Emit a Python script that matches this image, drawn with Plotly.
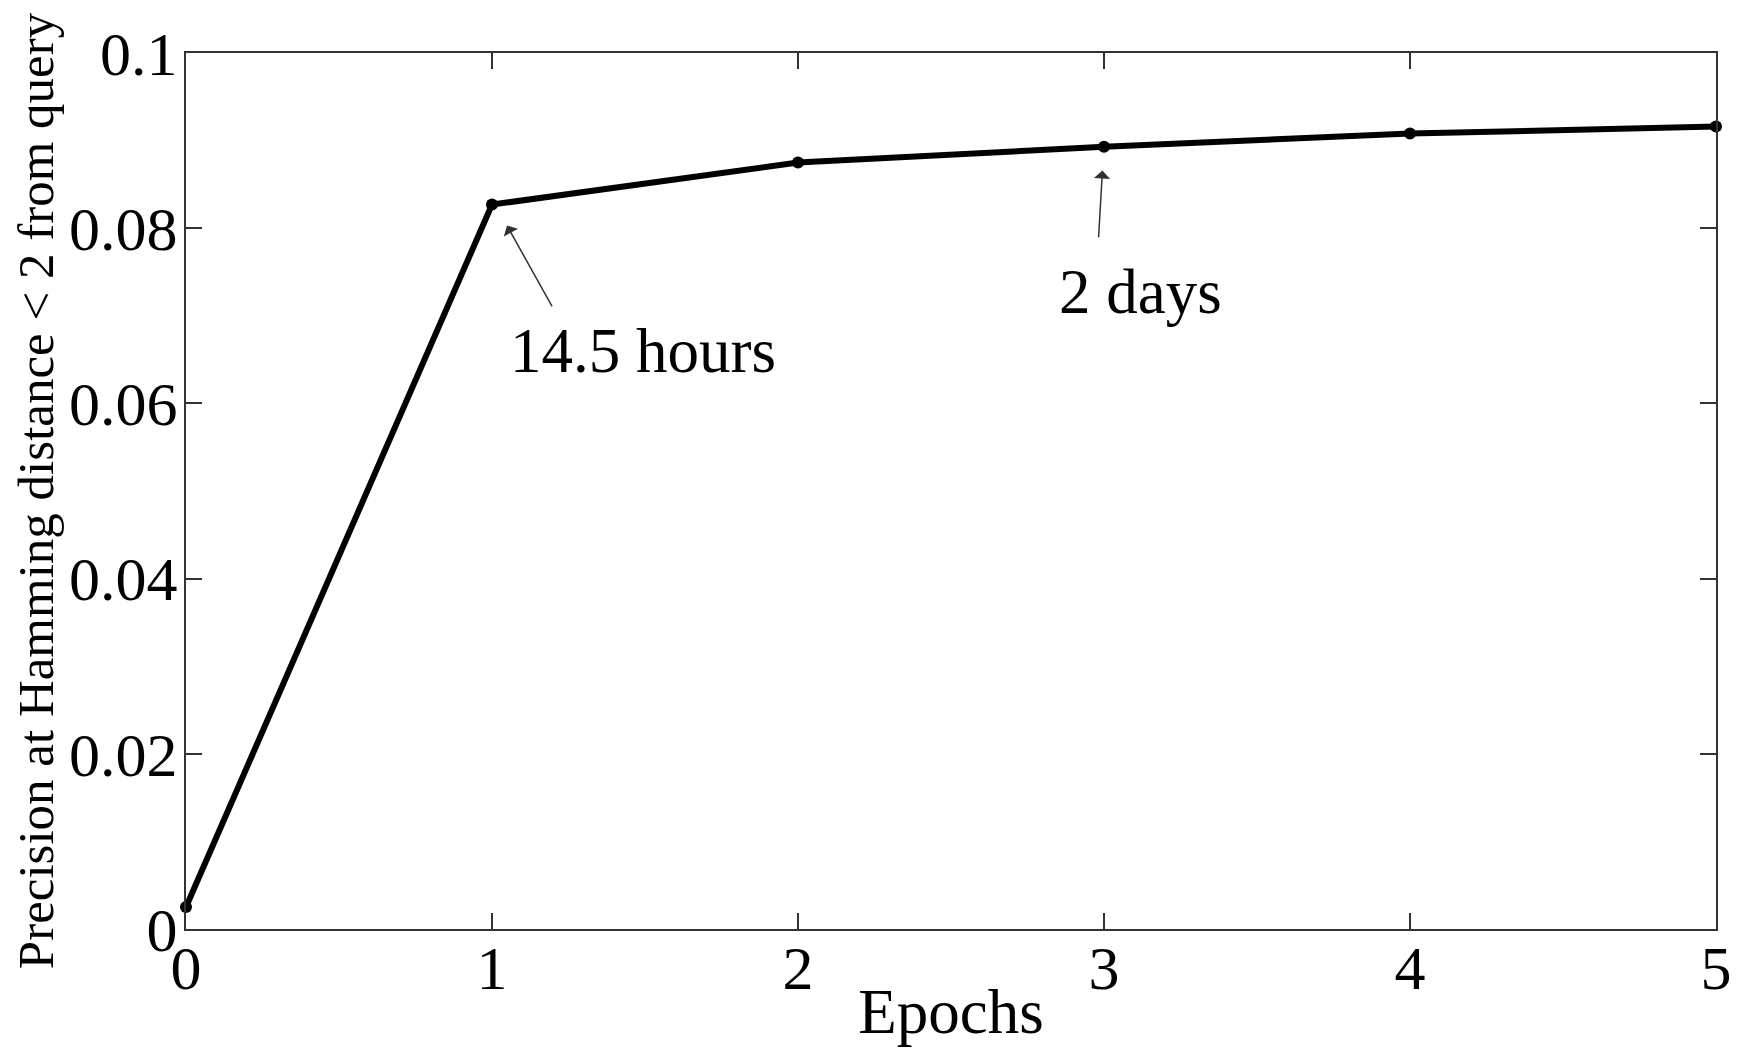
import plotly.graph_objects as go

epochs = [0, 1, 2, 3, 4, 5]
precision = [0.0025, 0.0827, 0.0875, 0.0893, 0.0908, 0.0916]
x_ticks = [0, 1, 2, 3, 4, 5]
y_ticks = [0, 0.02, 0.04, 0.06, 0.08, 0.1]
y_ticktext = ["0", "0.02", "0.04", "0.06", "0.08", "0.1"]

FONT = "Liberation Serif"

fig = go.Figure()
fig.add_trace(go.Scatter(
    x=epochs, y=precision, mode="lines+markers",
    line=dict(color="black", width=6),
    marker=dict(color="black", size=12),
    showlegend=False, cliponaxis=False,
))

axis_common = dict(
    showline=True, linecolor="#333", linewidth=2, mirror="ticks",
    ticks="inside", ticklen=16, tickwidth=1.5, tickcolor="#333",
    showgrid=False, zeroline=False, automargin=False,
    tickfont=dict(family=FONT, size=62, color="black"),
)

# page body has an 8px margin, so the figure is sized to fit inside the window
fig.update_layout(
    width=1725, height=1039,
    margin=dict(l=178, r=17, t=45, b=118),
    paper_bgcolor="white", plot_bgcolor="white",
    xaxis=dict(range=[0, 5], tickvals=x_ticks, ticktext=[str(v) for v in x_ticks],
               ticklabelstandoff=-16,
               title=dict(text="Epochs", font=dict(family=FONT, size=63, color="black"), standoff=0),
               **axis_common),
    yaxis=dict(range=[0, 0.1], tickvals=y_ticks, ticktext=y_ticktext,
               ticklabelstandoff=-6,
               title=dict(text="Precision at Hamming distance < 2 from query",
                          font=dict(family=FONT, size=51, color="black"), standoff=0),
               **axis_common),
)

# arrows
fig.add_annotation(x=1.049, y=0.0803, ax=1.199, ay=0.0709, axref="x", ayref="y",
                   xref="x", yref="y", text="", showarrow=True,
                   arrowhead=1, arrowsize=1.8, arrowwidth=1.5, arrowcolor="#333")
fig.add_annotation(x=2.995, y=0.0866, ax=2.982, ay=0.0788, axref="x", ayref="y",
                   xref="x", yref="y", text="", showarrow=True,
                   arrowhead=1, arrowsize=1.8, arrowwidth=1.5, arrowcolor="#333")
fig.add_annotation(x=1.495, y=0.0660, xref="x", yref="y", text="14.5 hours",
                   showarrow=False, font=dict(family=FONT, size=63, color="black"))
fig.add_annotation(x=3.12, y=0.0727, xref="x", yref="y", text="2 days",
                   showarrow=False, font=dict(family=FONT, size=63, color="black"))

fig.write_html("out.html")
